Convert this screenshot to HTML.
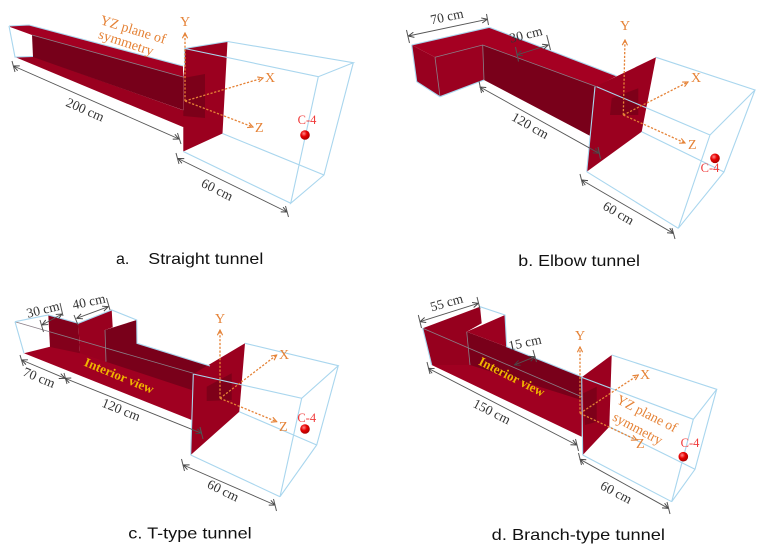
<!DOCTYPE html>
<html><head><meta charset="utf-8"><style>
html,body{margin:0;padding:0;background:#fff}
svg{display:block}
.dim{font-family:"Liberation Serif",serif;font-size:13.5px;fill:#333}
.ax{font-family:"Liberation Serif",serif;font-size:14px;fill:#e58236}
.yz{font-family:"Liberation Serif",serif;font-size:14px;fill:#e58236}
.c4{font-family:"Liberation Serif",serif;font-size:12.5px;fill:#f03a3a}
.iv{font-family:"Liberation Serif",serif;font-size:13px;font-weight:bold;fill:#f0b400}
.cap{font-family:"Liberation Sans",Arial,sans-serif;font-size:16px;fill:#111}
.bl{stroke:#a9d6ee;stroke-width:1.1;fill:none}
.gr{stroke:#8a7f88;stroke-width:0.8;fill:none}
.dl{stroke:#555;stroke-width:0.9;fill:none}
.tk{stroke:#555;stroke-width:1;fill:none}
.axl{stroke:#e58236;stroke-width:1.3;stroke-dasharray:2.2 1.6;fill:none}
</style></head><body>
<svg width="760" height="551" viewBox="0 0 760 551" xmlns="http://www.w3.org/2000/svg">
<defs>
<marker id="ar" viewBox="0 0 8 8" refX="7.5" refY="4" markerWidth="7" markerHeight="7" markerUnits="userSpaceOnUse" orient="auto-start-reverse"><path d="M1,1 L7.5,4 L1,7" fill="none" stroke="#444" stroke-width="1.1"/></marker>
<marker id="ao" viewBox="0 0 8 8" refX="7" refY="4" markerWidth="7" markerHeight="7" markerUnits="userSpaceOnUse" orient="auto"><path d="M1,1 L7,4 L1,7" fill="none" stroke="#e58236" stroke-width="1.3"/></marker>
<radialGradient id="ball" cx="0.38" cy="0.35" r="0.7"><stop offset="0" stop-color="#ff8a8a"/><stop offset="0.45" stop-color="#e80000"/><stop offset="1" stop-color="#a00000"/></radialGradient>
</defs>

<!-- ===== Panel a ===== -->
<polygon points="15,57 33,56.5 205,118 183,127" fill="#9a001f"/>
<polygon points="32,35 183,77 183,110 33,57" fill="#77001a"/>
<polygon points="10,26 29,25 183,66 183,77 32,35 10,27" fill="#a30022"/>
<polygon points="184.5,48.5 227.5,41.5 222.5,133.5 183.3,151.5 183.3,77 184.5,66" fill="#9b001f"/>
<polygon points="183.3,78 205,74 205,118 183.3,116" fill="#7c0019"/>
<path class="gr" d="M32,35 L183,77"/>
<path class="bl" d="M9,26 L29,25 L183,66 M9,26 L15,57 L33,56.5 M184.5,48.5 L184.5,66 M184.5,48.5 L227.5,41.5"/>
<path class="bl" d="M227.5,41.5 L353.3,62.7 L318.3,76.7 L184.5,48.5 M318.3,76.7 L290.7,203.3 L324,175 L353.3,62.7 M183.3,151.5 L290.7,203.3 M222.5,133.5 L324,175"/>
<!-- axes a -->
<path class="axl" d="M185,101 L185,33" marker-end="url(#ao)"/>
<path class="axl" d="M185,101 L263,78" marker-end="url(#ao)"/>
<path class="axl" d="M185,101 L253,127" marker-end="url(#ao)"/>
<text class="ax" x="185" y="26" text-anchor="middle">Y</text>
<text class="ax" x="265" y="82">X</text>
<text class="ax" x="255" y="132">Z</text>
<text class="yz" transform="translate(133,30) rotate(17)" text-anchor="middle" y="4" textLength="68" lengthAdjust="spacingAndGlyphs">YZ plane of</text>
<text class="yz" transform="translate(126,43) rotate(18)" text-anchor="middle" y="4" textLength="57" lengthAdjust="spacingAndGlyphs">symmetry</text>
<circle cx="305" cy="135" r="4.8" fill="url(#ball)"/>
<text class="c4" x="307" y="124" text-anchor="middle">C-4</text>
<!-- dims a -->
<path class="dl" d="M13.5,66 L179,139" marker-start="url(#ar)" marker-end="url(#ar)"/>
<path class="tk" d="M12,61 L15,72 M177.5,133 L181,144"/>
<text class="dim" transform="translate(85,110) rotate(23.8)" text-anchor="middle" y="4">200 cm</text>
<path class="dl" d="M178,158.5 L287,212" marker-start="url(#ar)" marker-end="url(#ar)"/>
<path class="tk" d="M176,153 L179,164 M285.5,206 L288.5,217"/>
<text class="dim" transform="translate(217,190) rotate(26.5)" text-anchor="middle" y="4">60 cm</text>
<text class="cap" x="116" y="264">a.</text>
<text class="cap" x="148.3" y="264" textLength="115" lengthAdjust="spacingAndGlyphs">Straight tunnel</text>

<!-- ===== Panel b ===== -->
<polygon points="411.7,45 489.3,27.3 616.7,76 596.7,86.7 482.7,45 435,57.3" fill="#a50022"/>
<polygon points="411.7,45 435,57.3 440,96.7 416.7,81.7" fill="#98001f"/>
<polygon points="435,57.3 482.7,45 484,80 440,96.7" fill="#9b0020"/>
<polygon points="482.7,45 596.7,86.7 591.7,136.7 484,80" fill="#79001a"/>
<polygon points="595,86.7 656,57.3 641.7,131.7 586.7,171.7" fill="#9b001f"/>
<polygon points="611.7,98.3 638.3,88.3 638.3,115 610,115" fill="#7e0019"/>
<path class="gr" d="M435,57.3 L482.7,45 L596.7,86.7 M435,57.3 L440,96.7 M482.7,45 L484,80"/>
<path class="bl" d="M411.7,45 L489.3,27.3 L616.7,76 M416.7,81.7 L440,96.7 L484,80 M411.7,45 L416.7,81.7 M595,86.7 L586.7,171.7"/>
<path class="bl" d="M656,57.3 L755,90 L710,135 L596.7,86.7 M710,135 L678.3,228.3 L724,172 L755,90 M586.7,171.7 L678.3,228.3 M641.7,131.7 L724,172"/>
<path class="axl" d="M623.3,115 L625,40" marker-end="url(#ao)"/>
<path class="axl" d="M623.3,115 L688,82" marker-end="url(#ao)"/>
<path class="axl" d="M623.3,115 L685,143" marker-end="url(#ao)"/>
<text class="ax" x="625" y="30" text-anchor="middle">Y</text>
<text class="ax" x="691" y="82">X</text>
<text class="ax" x="688" y="149">Z</text>
<circle cx="715" cy="158.3" r="4.8" fill="url(#ball)"/>
<text class="c4" x="710" y="172" text-anchor="middle">C-4</text>
<path class="dl" d="M408.3,36 L487.3,19.3" marker-start="url(#ar)" marker-end="url(#ar)"/>
<path class="tk" d="M406.5,30 L409.5,43 M486.5,14 L488.5,25"/>
<text class="dim" transform="translate(447,17) rotate(-12)" text-anchor="middle" y="4">70 cm</text>
<path class="dl" d="M516.7,55 L548.3,45" marker-start="url(#ar)" marker-end="url(#ar)"/>
<path class="tk" d="M515.5,47 L518.5,61.5 M546.7,35 L550.5,50"/>
<text class="dim" transform="translate(526,35) rotate(-14)" text-anchor="middle" y="4">30 cm</text>
<path class="dl" d="M480,87 L599,153.3" marker-start="url(#ar)" marker-end="url(#ar)"/>
<path class="tk" d="M479,81 L481.5,93 M598,147 L600.5,159"/>
<text class="dim" transform="translate(530,126) rotate(29.5)" text-anchor="middle" y="4">120 cm</text>
<path class="dl" d="M581.7,180 L673.3,233.3" marker-start="url(#ar)" marker-end="url(#ar)"/>
<path class="tk" d="M580,174 L583,186 M672,228 L675,239"/>
<text class="dim" transform="translate(618.3,213.5) rotate(30)" text-anchor="middle" y="4">60 cm</text>
<text class="cap" x="518.3" y="266" textLength="121.7" lengthAdjust="spacingAndGlyphs">b. Elbow tunnel</text>

<!-- ===== Panel c ===== -->
<polygon points="24,353.3 50,346.7 215,372 191.7,420" fill="#a00021"/>
<polygon points="48.3,315 78.3,323.3 80,353.3 50,347" fill="#83001b"/>
<polygon points="78.3,323.3 111.7,310 112.7,327.3 105,330 106,361.7 80,353.3" fill="#99001f"/>
<polygon points="105,330 136.7,320 137,343.3 210,366 210,385 191.7,390 106,361.7" fill="#79001a"/>
<polygon points="193.3,374 245,343.3 239.3,411.7 190.7,455" fill="#9b001f"/>
<polygon points="206.7,386.7 231.7,373.3 231.7,400 206.7,401" fill="#7e0019"/>
<path class="gr" d="M15,321.7 L193.3,373.3 M105,330 L106,361.7"/>
<path class="bl" d="M15,321.7 L48.3,315 L78.3,323.3 L111.7,310 L136.7,320 L137,343.3 L210,366 M15,321.7 L24,353.3 M193.3,374 L190.7,455"/>
<path class="bl" d="M245,343.3 L338.3,365.7 L301.7,398.3 L193.3,374 M301.7,398.3 L280,496.7 L316.7,445 L338.3,365.7 M190.7,455 L280,496.7 M239.3,411.7 L316.7,445"/>
<path class="axl" d="M220,398.3 L220,330" marker-end="url(#ao)"/>
<path class="axl" d="M220,398.3 L276.7,355" marker-end="url(#ao)"/>
<path class="axl" d="M220,398.3 L276.7,421.7" marker-end="url(#ao)"/>
<text class="ax" x="220" y="323" text-anchor="middle">Y</text>
<text class="ax" x="279" y="359">X</text>
<text class="ax" x="279" y="431">Z</text>
<circle cx="305" cy="429" r="4.8" fill="url(#ball)"/>
<text class="c4" x="306.7" y="422" text-anchor="middle">C-4</text>
<text class="iv" transform="translate(119,376) rotate(22.5)" text-anchor="middle" y="4" textLength="74" lengthAdjust="spacingAndGlyphs">Interior view</text>
<path class="dl" d="M42,325 L62,314" marker-start="url(#ar)" marker-end="url(#ar)"/>
<path class="tk" d="M40,320 L43.5,332 M60,303 L63,316"/>
<text class="dim" transform="translate(43,310) rotate(-14)" text-anchor="middle" y="4">30 cm</text>
<path class="dl" d="M76.7,318.3 L108.3,306.7" marker-start="url(#ar)" marker-end="url(#ar)"/>
<path class="tk" d="M74,315 L78,325 M106.5,298 L110,310"/>
<text class="dim" transform="translate(89,302) rotate(-12)" text-anchor="middle" y="4">40 cm</text>
<path class="dl" d="M21.7,360 L65,378.3" marker-start="url(#ar)" marker-end="url(#ar)"/>
<path class="tk" d="M20,355 L23.3,366 M64,373 L67,384"/>
<text class="dim" transform="translate(39,378) rotate(22.5)" text-anchor="middle" y="4">70 cm</text>
<path class="dl" d="M65,378.3 L201.7,433.3" marker-start="url(#ar)" marker-end="url(#ar)"/>
<path class="tk" d="M200,427 L203,439"/>
<text class="dim" transform="translate(121,410) rotate(22)" text-anchor="middle" y="4">120 cm</text>
<path class="dl" d="M183.3,465 L275,505" marker-start="url(#ar)" marker-end="url(#ar)"/>
<path class="tk" d="M181.5,459 L184.5,471 M273.5,499 L276.5,511"/>
<text class="dim" transform="translate(223,491) rotate(26)" text-anchor="middle" y="4">60 cm</text>
<text class="cap" x="128.3" y="538.5" textLength="123.4" lengthAdjust="spacingAndGlyphs">c. T-type tunnel</text>

<!-- ===== Panel d ===== -->
<polygon points="431.7,365 469,355 582,400 581.7,436.7" fill="#a00021"/>
<polygon points="422.7,328.3 480,306.7 481.7,323.3 466.7,331.7 470,365 431.7,365" fill="#96001e"/>
<polygon points="466.7,331.7 506.7,346.7 581.7,376.7 581.7,400 470,365" fill="#79001a"/>
<polygon points="466.7,331.7 505,315 506.7,346.7" fill="#9c0020"/>
<polygon points="581.7,377.3 611.7,355 609.3,426.7 582.7,455" fill="#9b001f"/>
<polygon points="583.3,393.3 596.7,386.7 596.7,421.7 585,425" fill="#7e0019"/>
<path class="gr" d="M422.7,328.3 L581.7,396.7 M466.7,331.7 L470,365"/>
<path class="bl" d="M480,306.7 L505,315 L506.7,346.7 L581.7,376.7 M422.7,328.3 L431.7,365 M581.7,377.3 L582.7,455"/>
<path class="bl" d="M611.7,355 L716.7,389.3 L693.3,419.3 L581.7,377.3 M693.3,419.3 L671.7,501.7 L695,469.3 L716.7,389.3 M582.7,455 L671.7,501.7 M609.3,426.7 L695,469.3"/>
<path class="axl" d="M580,413.3 L580,347" marker-end="url(#ao)"/>
<path class="axl" d="M580,413.3 L638.3,375" marker-end="url(#ao)"/>
<path class="axl" d="M580,413.3 L636.7,440" marker-end="url(#ao)"/>
<text class="ax" x="580" y="340" text-anchor="middle">Y</text>
<text class="ax" x="640" y="379">X</text>
<text class="ax" x="636" y="448">Z</text>
<text class="yz" transform="translate(646.7,414) rotate(27)" text-anchor="middle" y="4" textLength="66" lengthAdjust="spacingAndGlyphs">YZ plane of</text>
<text class="yz" transform="translate(637.5,429) rotate(28)" text-anchor="middle" y="4" textLength="54" lengthAdjust="spacingAndGlyphs">symmetry</text>
<circle cx="683.3" cy="456.7" r="4.8" fill="url(#ball)"/>
<text class="c4" x="690" y="447" text-anchor="middle">C-4</text>
<text class="iv" transform="translate(511.7,377) rotate(27)" text-anchor="middle" y="4" textLength="72" lengthAdjust="spacingAndGlyphs">Interior view</text>
<path class="dl" d="M420,321.7 L478.3,303.3" marker-start="url(#ar)" marker-end="url(#ar)"/>
<path class="tk" d="M418.3,315 L421.5,328 M477,297 L480,309"/>
<text class="dim" transform="translate(446.7,303) rotate(-16)" text-anchor="middle" y="4">55 cm</text>
<path class="dl" d="M514.3,365 L535,356.7" marker-start="url(#ar)" marker-end="url(#ar)"/>
<path class="tk" d="M533,350 L536.5,362"/>
<text class="dim" transform="translate(525,343) rotate(-12)" text-anchor="middle" y="4">15 cm</text>
<path class="dl" d="M428.3,368.3 L576.7,445" marker-start="url(#ar)" marker-end="url(#ar)"/>
<path class="tk" d="M427,362 L430,374 M575.5,439 L578.5,451"/>
<text class="dim" transform="translate(491.7,412) rotate(27)" text-anchor="middle" y="4">150 cm</text>
<path class="dl" d="M580,459.3 L668.3,508.3" marker-start="url(#ar)" marker-end="url(#ar)"/>
<path class="tk" d="M578.5,453 L581.5,465 M667,502 L670,514"/>
<text class="dim" transform="translate(616,492.7) rotate(28)" text-anchor="middle" y="4">60 cm</text>
<text class="cap" x="491.7" y="540" textLength="173.3" lengthAdjust="spacingAndGlyphs">d. Branch-type tunnel</text>
</svg>
</body></html>
